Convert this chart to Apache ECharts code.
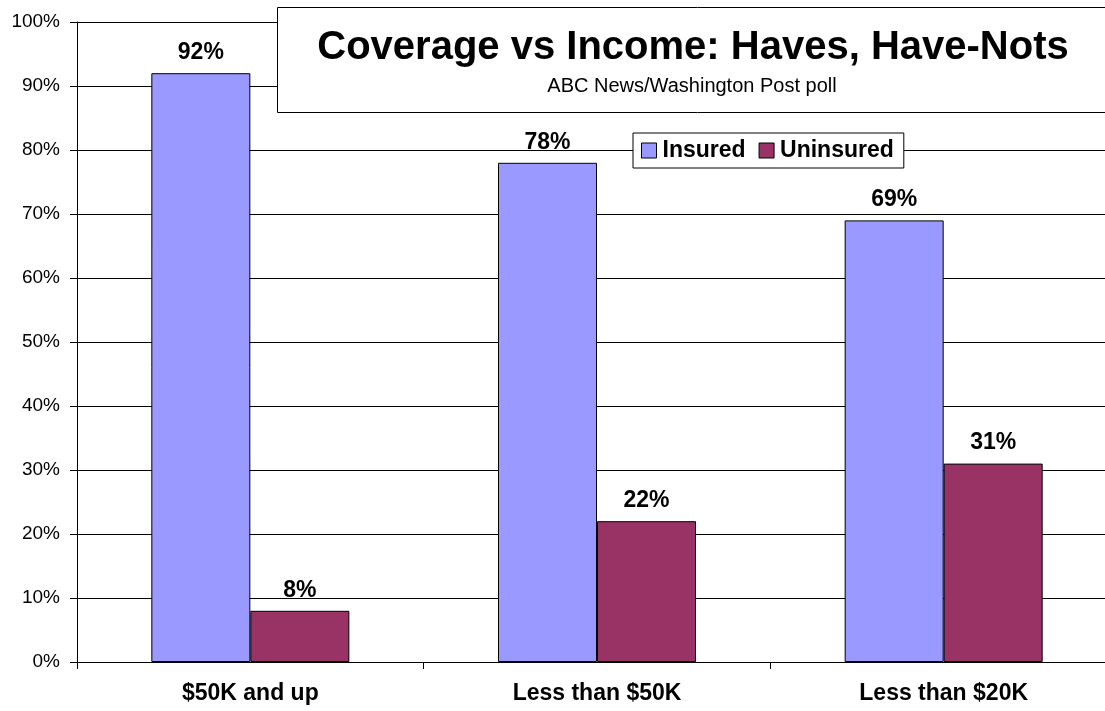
<!DOCTYPE html>
<html>
<head>
<meta charset="utf-8">
<script src="https://cdn.jsdelivr.net/npm/echarts@6/dist/echarts.min.js"></script>
<style>
html,body{margin:0;padding:0;background:#fff;overflow:hidden;width:1105px;height:711px;}
#chart{width:1117px;height:711px;}
</style>
</head>
<body>
<div id="chart"></div>
<script>
const categories = ['$50K and up', 'Less than $50K', 'Less than $20K'];
const insured = [92, 78, 69];
const uninsured = [8, 22, 31];
const seriesNames = ['Insured', 'Uninsured'];
const titleText = 'Coverage vs Income: Haves, Have-Nots';
const subtitleText = 'ABC News/Washington Post poll';

const FONT = '"Liberation Sans", Arial, sans-serif';
const chart = echarts.init(document.getElementById('chart'), null, {renderer: 'canvas'});
const labelCfg = {
  show: true, position: 'top', distance: 9,
  formatter: p => p.value + '%',
  fontFamily: FONT, fontWeight: 'bold', fontSize: 23, color: '#000'
};
chart.setOption({
  animation: false,
  textStyle: {fontFamily: FONT},
  grid: {left: 77, right: 0, top: 22, bottom: 49, containLabel: false},
  xAxis: {
    type: 'category', data: categories,
    axisLine: {lineStyle: {color: '#000', width: 1}},
    axisTick: {show: true, alignWithLabel: false, length: 7, lineStyle: {color: '#000'}},
    axisLabel: {fontFamily: FONT, fontWeight: 'bold', fontSize: 23, color: '#000', margin: 20}
  },
  yAxis: {
    type: 'value', min: 0, max: 100, interval: 10,
    axisLine: {show: true, lineStyle: {color: '#000', width: 1}},
    axisTick: {show: true, length: 7, lineStyle: {color: '#000'}},
    axisLabel: {formatter: v => v + '%', fontFamily: FONT, fontSize: 19, color: '#000', margin: 17},
    splitLine: {show: true, lineStyle: {color: '#000', width: 1}}
  },
  legend: {
    data: seriesNames,
    left: 633, top: 133,
    padding: [6, 10, 6, 8],
    itemGap: 13, itemWidth: 15, itemHeight: 15,
    borderColor: '#000', borderWidth: 1, backgroundColor: '#fff',
    icon: 'rect',
    itemStyle: {borderColor: '#000', borderWidth: 1},
    textStyle: {fontFamily: FONT, fontWeight: 'bold', fontSize: 23, color: '#000', padding: [0,0,0,1]}
  },
  graphic: [
    {type: 'rect', left: 277, top: 7, z: 10, shape: {width: 840, height: 105},
     style: {fill: '#fff', stroke: '#000', lineWidth: 1}},
    {type: 'text', x: 693, y: 48, z: 11,
     style: {text: titleText, fontFamily: FONT, fontWeight: 'bold', fontSize: 40, fill: '#000', textAlign: 'center', textVerticalAlign: 'middle'}},
    {type: 'text', x: 692, y: 86, z: 11,
     style: {text: subtitleText, fontFamily: FONT, fontSize: 20, fill: '#000', textAlign: 'center', textVerticalAlign: 'middle'}}
  ],
  series: [
    {name: seriesNames[0], type: 'bar', data: insured, barWidth: 99, barGap: '0%',
     itemStyle: {color: '#9999FF', borderColor: '#000', borderWidth: 1}, label: labelCfg},
    {name: seriesNames[1], type: 'bar', data: uninsured, barWidth: 99, barGap: '0%',
     itemStyle: {color: '#993366', borderColor: '#000', borderWidth: 1}, label: labelCfg}
  ]
});
</script>
</body>
</html>
